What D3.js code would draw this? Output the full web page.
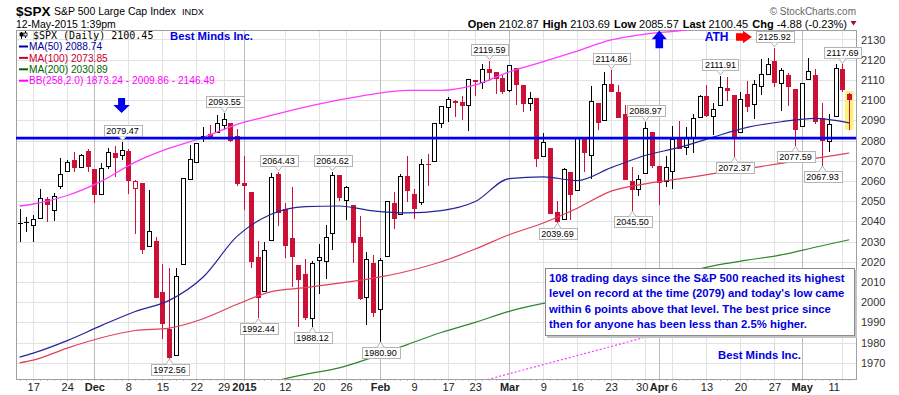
<!DOCTYPE html>
<html><head><meta charset="utf-8">
<script src="https://cdn.jsdelivr.net/npm/d3@7"></script>
<style>html,body{margin:0;padding:0;background:#fff;}svg{display:block;}</style>
</head><body><svg id="c" width="899" height="395"></svg>
<script>
// ---------------- DATA ----------------
const dates = ['2014-11-13','2014-11-14','2014-11-17','2014-11-18','2014-11-19','2014-11-20','2014-11-21','2014-11-24','2014-11-25','2014-11-26','2014-11-28',
'2014-12-01','2014-12-02','2014-12-03','2014-12-04','2014-12-05','2014-12-08','2014-12-09','2014-12-10','2014-12-11','2014-12-12','2014-12-15','2014-12-16','2014-12-17','2014-12-18','2014-12-19','2014-12-22','2014-12-23','2014-12-24','2014-12-26','2014-12-29','2014-12-30','2014-12-31',
'2015-01-02','2015-01-05','2015-01-06','2015-01-07','2015-01-08','2015-01-09','2015-01-12','2015-01-13','2015-01-14','2015-01-15','2015-01-16','2015-01-20','2015-01-21','2015-01-22','2015-01-23','2015-01-26','2015-01-27','2015-01-28','2015-01-29','2015-01-30',
'2015-02-02','2015-02-03','2015-02-04','2015-02-05','2015-02-06','2015-02-09','2015-02-10','2015-02-11','2015-02-12','2015-02-13','2015-02-17','2015-02-18','2015-02-19','2015-02-20','2015-02-23','2015-02-24','2015-02-25','2015-02-26','2015-02-27',
'2015-03-02','2015-03-03','2015-03-04','2015-03-05','2015-03-06','2015-03-09','2015-03-10','2015-03-11','2015-03-12','2015-03-13','2015-03-16','2015-03-17','2015-03-18','2015-03-19','2015-03-20','2015-03-23','2015-03-24','2015-03-25','2015-03-26','2015-03-27','2015-03-30','2015-03-31',
'2015-04-01','2015-04-02','2015-04-06','2015-04-07','2015-04-08','2015-04-09','2015-04-10','2015-04-13','2015-04-14','2015-04-15','2015-04-16','2015-04-17','2015-04-20','2015-04-21','2015-04-22','2015-04-23','2015-04-24','2015-04-27','2015-04-28','2015-04-29','2015-04-30',
'2015-05-01','2015-05-04','2015-05-05','2015-05-06','2015-05-07','2015-05-08','2015-05-11','2015-05-12'];

const openV = [2039.21,2039.74,2038.29,2041.48,2051.16,2045.87,2057.46,2065.07,2070.15,2067.03,2074.78,
2065.78,2053.77,2067.45,2073.64,2072.78,2074.84,2056.55,2058.86,2027.92,2030.36,2005.03,1986.71,1973.77,2018.98,2061.04,2069.28,2081.48,2083.25,2084.30,2087.63,2088.49,2082.11,
2058.90,2054.44,2022.15,2005.55,2030.61,2063.45,2046.13,2031.58,2018.40,2013.75,1992.25,2020.76,2020.19,2034.30,2062.98,2050.42,2047.86,2032.34,2002.45,2019.35,
1996.67,2022.71,2048.86,2043.45,2062.28,2053.47,2049.38,2068.55,2069.98,2088.78,2096.47,2099.16,2099.25,2097.65,2109.83,2109.10,2115.30,2113.91,2110.88,
2105.23,2115.76,2107.72,2098.54,2100.91,2072.25,2076.14,2044.69,2041.10,2064.56,2055.35,2080.59,2072.84,2098.69,2090.32,2107.99,2103.94,2093.10,2059.94,2055.78,2064.11,2084.05,
2067.63,2060.03,2064.87,2080.79,2076.94,2081.29,2091.51,2102.03,2092.28,2097.82,2105.96,2102.58,2084.11,2102.82,2098.27,2107.21,2112.80,2119.29,2108.35,2112.49,2105.52,
2087.38,2110.23,2112.63,2091.26,2079.96,2092.13,2115.56,2102.87];

const highV = [2046.18,2042.22,2043.07,2056.08,2052.14,2053.84,2071.46,2070.17,2074.21,2073.40,2075.76,
2065.78,2068.77,2076.28,2077.34,2079.47,2075.78,2060.60,2058.86,2055.53,2032.25,2018.69,2016.89,2016.75,2061.23,2077.85,2078.76,2086.73,2087.56,2092.70,2093.55,2088.49,2085.58,
2072.36,2054.44,2030.25,2029.61,2064.08,2064.43,2049.30,2056.93,2018.40,2021.35,2020.46,2028.94,2038.29,2064.62,2062.98,2057.62,2047.86,2042.49,2024.64,2023.32,
2021.66,2050.30,2054.74,2063.55,2072.40,2056.16,2070.86,2073.48,2088.53,2097.03,2101.30,2100.23,2102.13,2110.61,2110.05,2117.94,2119.59,2113.91,2112.74,
2117.52,2115.76,2107.72,2104.25,2100.91,2083.49,2076.14,2050.08,2066.41,2064.56,2081.41,2080.59,2106.85,2098.69,2113.92,2114.86,2107.63,2097.43,2067.15,2062.83,2088.97,2084.05,
2067.63,2072.17,2086.99,2089.81,2086.69,2093.31,2102.61,2107.65,2098.62,2111.91,2111.30,2102.58,2103.94,2109.64,2109.98,2120.49,2120.92,2125.92,2116.04,2113.65,2105.52,
2108.41,2120.95,2115.24,2098.42,2092.90,2117.66,2117.69,2103.69];

const lowV = [2030.44,2035.20,2030.17,2041.48,2040.37,2040.49,2056.75,2065.07,2064.75,2066.96,2065.06,
2049.57,2053.77,2066.65,2062.34,2070.81,2054.27,2034.17,2024.26,2027.92,2002.33,1982.26,1972.56,1973.77,2018.98,2061.03,2069.28,2079.77,2081.86,2084.30,2085.75,2079.53,2057.94,
2046.04,2017.34,1992.44,2005.55,2030.61,2038.33,2022.58,2008.25,1988.44,1991.47,1988.12,2004.49,2012.04,2026.38,2050.54,2040.97,2019.91,2001.49,1989.18,1993.38,
1980.90,2022.71,2036.72,2043.45,2049.97,2041.88,2048.62,2057.99,2069.98,2086.70,2089.80,2092.15,2090.79,2085.44,2102.68,2105.87,2109.89,2103.76,2103.75,
2104.50,2098.26,2094.49,2095.22,2067.27,2072.21,2044.16,2039.69,2041.10,2041.17,2055.35,2065.08,2061.23,2085.56,2090.32,2104.42,2091.50,2061.05,2045.50,2052.96,2064.11,2067.04,
2048.38,2057.32,2056.52,2076.10,2073.30,2074.29,2091.51,2092.33,2083.24,2097.82,2100.02,2072.37,2084.11,2094.38,2091.05,2103.19,2112.80,2107.04,2094.89,2097.41,2077.59,
2087.38,2110.23,2088.46,2067.93,2074.99,2092.13,2104.58,2085.57];

const closeV = [2039.33,2039.82,2041.32,2051.80,2048.72,2052.75,2063.50,2069.41,2067.03,2072.83,2067.56,
2053.44,2066.55,2074.33,2071.92,2075.37,2060.31,2059.82,2026.14,2035.33,2002.33,1989.63,1972.74,2012.89,2061.23,2070.65,2078.54,2082.17,2081.88,2088.77,2090.57,2080.35,2058.90,
2058.20,2020.58,2002.61,2025.90,2062.14,2044.81,2028.26,2023.03,2011.27,1992.67,2019.42,2022.55,2032.12,2063.15,2051.82,2057.09,2029.55,2002.16,2021.25,1994.99,
2020.85,2050.03,2041.51,2062.52,2055.47,2046.74,2068.59,2068.53,2088.48,2096.99,2100.34,2099.68,2097.45,2110.30,2109.66,2115.48,2113.86,2110.74,2104.50,
2117.39,2107.78,2098.53,2101.04,2071.26,2079.43,2044.16,2040.24,2065.95,2053.40,2081.19,2074.28,2099.50,2089.27,2108.10,2104.42,2091.50,2061.05,2056.15,2061.02,2086.24,2067.89,
2059.69,2066.96,2080.62,2076.33,2081.90,2091.18,2102.06,2092.43,2095.84,2106.63,2104.99,2081.18,2100.40,2097.29,2107.96,2112.93,2117.69,2108.92,2114.76,2106.85,2085.51,
2108.29,2114.49,2089.46,2080.15,2088.00,2116.10,2105.33,2100.45];

const priorClose = 2038.25;

// overlay samples (trading-day index into dates)
const maSampleIdx = [0,2,7,12,17,22,27,32,37,42,47,52,57,62,67,72,77,82,87,92,97,102,107,112,117,122];
const ma50  = [1972.8,1974.8,1981.0,1988.4,1995.4,2000.9,2012.5,2032.7,2043.5,2047.3,2047.6,2045.2,2044.2,2045.3,2049.8,2061.2,2062.0,2060.2,2066.6,2072.6,2076.6,2081.7,2086.5,2089.3,2091.0,2088.74];
const ma100 = [1970.0,1971.3,1977.3,1982.4,1986.0,1987.2,1991.8,1999.0,2005.2,2007.2,2009.4,2011.9,2015.3,2020.0,2026.3,2033.4,2039.2,2046.5,2055.0,2058.6,2061.0,2063.6,2066.1,2068.7,2071.2,2073.85];
const ma200 = [null,null,null,null,null,null,null,1950.0,1960.0,1964.3,1967.5,1972.8,1979.0,1985.0,1990.0,1995.5,1999.4,2002.3,2006.5,2010.5,2014.0,2018.0,2020.8,2023.4,2027.2,2030.89];
const bbUpper = [2047.6,2048.6,2052.8,2059.8,2069.3,2076.2,2081.5,2088.0,2092.4,2096.5,2100.1,2103.0,2104.8,2104.8,2107.5,2114.0,2119.0,2124.3,2129.8,2132.7,2134.3,2136.5,2139.0,2141.5,2144.0,2146.49];
const bbMiddle = [null,null,null,null,null,null,null,null,null,null,null,null,null,1955.6,1960.1,1964.6,1969.1,1973.6,1978.1,1982.7,1987.2,1991.7,1996.3,2000.8,2005.3,2009.86];
const bbLower = 1873.24;

const yTicks = [1970,1980,1990,2000,2010,2020,2030,2040,2050,2060,2070,2080,2090,2100,2110,2120,2130];
const xTickDates = ['2014-11-17','2014-11-24','2014-12-01','2014-12-08','2014-12-15','2014-12-22','2014-12-29','2015-01-02','2015-01-12','2015-01-20','2015-01-26','2015-02-02','2015-02-09','2015-02-17','2015-02-23','2015-03-02','2015-03-09','2015-03-16','2015-03-23','2015-03-30','2015-04-01','2015-04-06','2015-04-13','2015-04-20','2015-04-27','2015-05-01','2015-05-11'];
const xTickLabels = ['17','24','Dec','8','15','22','29','2015','12','20','26','Feb','9','17','23','Mar','9','16','23','30','Apr','6','13','20','27','May','11'];
const majorTicks = ['Dec','2015','Feb','Mar','Apr','May'];

const highLabelDates = ['2014-12-05','2014-12-29','2015-01-09','2015-01-22','2015-02-25','2015-03-23','2015-03-30','2015-04-15','2015-04-27','2015-05-11'];
const lowLabelDates  = ['2014-12-16','2015-01-06','2015-01-16','2015-02-02','2015-03-11','2015-03-26','2015-04-17','2015-04-30','2015-05-06'];

const resistanceLevel = 2081.2;
const noteLines = ["108 trading days since the S&P 500 reached its highest",
  "level on record at the time (2079) and today's low came",
  "within 6 points above that level. The best price since",
  "then for anyone has been less than 2.5% higher."];

// ---------------- LAYOUT ----------------
const plot = {l:16, r:856, t:30, b:379};
const RED = '#cc1036', BLACK = '#000';
const FONT = 'Arial, "Liberation Sans", sans-serif';
const svg = d3.select('#c').attr('font-family', FONT);
const idxOf = new Map(dates.map((d,i)=>[d,i]));
const x = d3.scaleLinear().domain([0, dates.length-1]).range([19.6, 849.2]);
const y = d3.scaleLinear().domain([1962, 2134.7]).range([plot.b, plot.t]);

svg.append('rect').attr('width',899).attr('height',395).attr('fill','#fff');
svg.append('defs').append('clipPath').attr('id','clip').append('rect')
  .attr('x',plot.l).attr('y',plot.t).attr('width',plot.r-plot.l).attr('height',plot.b-plot.t);

// grid
const grid = svg.append('g');
grid.selectAll('line.h').data(yTicks).join('line')
  .attr('x1',plot.l).attr('x2',plot.r)
  .attr('y1',d=>Math.round(y(d))+0.5).attr('y2',d=>Math.round(y(d))+0.5)
  .attr('stroke','#e2e2e2');
grid.selectAll('line.v').data(xTickDates).join('line')
  .attr('x1',d=>Math.round(x(idxOf.get(d)))+0.5).attr('x2',d=>Math.round(x(idxOf.get(d)))+0.5)
  .attr('y1',plot.t).attr('y2',plot.b)
  .attr('stroke',(d,i)=>majorTicks.includes(xTickLabels[i])?'#bdbdbd':'#e2e2e2');

// day ticks on bottom
grid.selectAll('line.d').data(dates).join('line')
  .attr('x1',(d,i)=>Math.round(x(i))+0.5).attr('x2',(d,i)=>Math.round(x(i))+0.5)
  .attr('y1',plot.b).attr('y2',plot.b+2).attr('stroke','#c8c8c8');

// frame
svg.append('rect').attr('x',plot.l+0.5).attr('y',plot.t+0.5).attr('width',plot.r-plot.l).attr('height',plot.b-plot.t)
  .attr('fill','none').attr('stroke','#a0a0a0');

// y axis
const yAx = svg.append('g').attr('transform',`translate(${plot.r},0)`)
  .call(d3.axisRight(y).tickValues(yTicks).tickSize(0).tickPadding(5).tickFormat(d3.format('d')));
yAx.select('.domain').remove();
yAx.selectAll('text').attr('font-size',11).attr('font-family',FONT).attr('fill','#333');

// x axis
const xShift = {'30':-3.5,'6':1.5};
const xAx = svg.append('g').attr('transform',`translate(0,${plot.b})`)
  .call(d3.axisBottom(x).tickValues(xTickDates.map(d=>idxOf.get(d))).tickSize(0).tickPadding(4)
    .tickFormat((d,i)=>xTickLabels[i]));
xAx.select('.domain').remove();
xAx.selectAll('text').attr('font-size',11).attr('font-family',FONT).attr('fill','#222')
  .attr('font-weight',(d,i)=>majorTicks.includes(xTickLabels[i])?'bold':'normal')
  .attr('text-anchor',(d,i)=>i===xTickLabels.length-1?'end':'middle')
  .attr('dx',(d,i)=>i===xTickLabels.length-1?-3:((xTickDates[i]==='2015-03-30'||xTickDates[i]==='2015-04-06')?xShift[xTickLabels[i]]:0));

// candles
const data = dates.map((d,k)=>({k,d,o:openV[k],h:highV[k],l:lowV[k],c:closeV[k],pc:k?closeV[k-1]:priorClose}));
const cg = svg.append('g').attr('clip-path','url(#clip)');
const last = data[data.length-1];
cg.append('rect').attr('x',x(last.k)-4.3).attr('width',8.6)
  .attr('y',y(last.h)-1.5).attr('height',y(last.l)-y(last.h)+2).attr('fill','#fbf27a');
data.forEach(d=>{
  const col = d.c < d.pc ? RED : BLACK;
  const filled = d.c < d.o;
  const px = Math.round(x(d.k));
  cg.append('line').attr('x1',px+0.5).attr('x2',px+0.5)
    .attr('y1',Math.round(y(d.h))).attr('y2',Math.round(y(d.l))+1).attr('stroke',col);
  const top = Math.round(y(Math.max(d.o,d.c)))+0.5;
  const bot = Math.round(y(Math.min(d.o,d.c)))+0.5;
  cg.append('rect').attr('x',px-1.5).attr('width',4)
    .attr('y',top).attr('height',Math.max(bot-top,0.01))
    .attr('fill',filled?col:'#fff').attr('stroke',col).attr('stroke-width',1);
});

// overlays
const lg = svg.append('g').attr('clip-path','url(#clip)').attr('fill','none');
function drawLine(vals,color,width,dash){
  const pts = maSampleIdx.map((k,i)=>({k,v:vals[i]}));
  lg.append('path').datum(pts)
    .attr('d',d3.line().defined(p=>p.v!=null).x(p=>x(p.k)).y(p=>y(p.v)).curve(d3.curveMonotoneX))
    .attr('stroke',color).attr('stroke-width',width).attr('stroke-dasharray',dash||null);
}
drawLine(bbMiddle,'#ff3cff',1.2,'2,2');
drawLine(ma200,'#2e872e',1.2);
drawLine(ma100,'#e0405a',1.2);
drawLine(ma50,'#24249a',1.2);
drawLine(bbUpper,'#ff3cff',1.3);

// resistance line
svg.append('line').attr('x1',plot.l).attr('x2',plot.r)
  .attr('y1',y(resistanceLevel)).attr('y2',y(resistanceLevel))
  .attr('stroke','#0000f0').attr('stroke-width',2.6);

// value labels
const lab = svg.append('g').attr('font-size',9).attr('font-family',FONT);
function valueLabel(dateStr, isHigh){
  const k = idxOf.get(dateStr);
  const v = isHigh ? highV[k] : lowV[k];
  const cx = Math.round(x(k))+0.5;
  const tipY = isHigh ? y(v)-1 : y(v)+1;
  const g = lab.append('g');
  const t = g.append('text').text(v.toFixed(2)).attr('text-anchor','middle').attr('x',cx);
  const w = t.node().getComputedTextLength()+5;
  const bh = 11;
  const by = isHigh ? Math.round(tipY-5-bh)+0.5 : Math.round(tipY+5)+0.5;
  g.insert('rect','text').attr('x',Math.round(cx-w/2)+0.5).attr('y',by).attr('width',Math.round(w)).attr('height',bh)
    .attr('fill','#fff').attr('stroke','#b4b4b4');
  const edge = isHigh ? by+bh : by;
  g.insert('path','text').attr('d',`M${cx-3.5},${edge} L${cx},${tipY} L${cx+3.5},${edge}`)
    .attr('fill','#fff').attr('stroke','#b4b4b4');
  t.attr('y',by+8.6).attr('fill','#000');
}
highLabelDates.forEach(d=>valueLabel(d,true));
lowLabelDates.forEach(d=>valueLabel(d,false));

// arrows / ATH annotation
const ann = svg.append('g');
(function(){
  const ax = x(idxOf.get('2014-12-05')), ty = y(2093.6);
  ann.append('path').attr('d',`M${ax-3.5},${ty-15} L${ax+3.5},${ty-15} L${ax+3.5},${ty-8} L${ax+8.3},${ty-8} L${ax},${ty} L${ax-8.3},${ty-8} L${ax-3.5},${ty-8}Z`).attr('fill','#0000f0');
  const ux = x(idxOf.get('2015-04-01'))+0.5, uy = y(2134.4);
  ann.append('path').attr('d',`M${ux},${uy} L${ux+7.5},${uy+8.6} L${ux+3.8},${uy+8.6} L${ux+3.8},${uy+17.6} L${ux-3.8},${uy+17.6} L${ux-3.8},${uy+8.6} L${ux-7.5},${uy+8.6}Z`).attr('fill','#0000f0');
  const rx0 = x(105.35), rx1 = x(107.7), ry = y(2131.2);
  ann.append('path').attr('d',`M${rx0},${ry-3.7} L${rx0+7},${ry-3.7} L${rx0+7},${ry-6.3} L${rx1},${ry} L${rx0+7},${ry+6.3} L${rx0+7},${ry+3.7} L${rx0},${ry+3.7}Z`).attr('fill','#ff0000');
  ann.append('text').text('ATH').attr('x',x(102.5)).attr('y',ry+4.3).attr('text-anchor','middle')
    .attr('font-weight','bold').attr('font-size',12).attr('fill','#0000f0');
})();

// note box
const nb = svg.append('g');
nb.append('rect').attr('x',547).attr('y',270).attr('width',310).attr('height',68).attr('fill','#c4c4c4');
nb.append('rect').attr('x',545.5).attr('y',268.5).attr('width',309).attr('height',67).attr('fill','#fff').attr('stroke','#8a8a8a');
nb.selectAll('text').data(noteLines).join('text').text(d=>d)
  .attr('x',549).attr('y',(d,i)=>282+i*15.4).attr('font-size',11.3).attr('font-weight','bold').attr('fill','#0000e0');
svg.append('text').text('Best Minds Inc.').attr('x',718).attr('y',359).attr('font-size',11.3).attr('font-weight','bold').attr('fill','#0000e0');

// legend
const leg = svg.append('g');
leg.append('text').text('$SPX (Daily) '+closeV[closeV.length-1].toFixed(2)).attr('x',33).attr('y',38.5)
  .attr('font-family','"DejaVu Sans Mono", monospace').attr('font-size',10).attr('fill','#000');
[[21,32,39,33,36,true],[25,31,38,33,36,false]].forEach(([cx,a,b,t,bb,f])=>{
  leg.append('line').attr('x1',cx+0.5).attr('x2',cx+0.5).attr('y1',a).attr('y2',b).attr('stroke','#000');
  leg.append('rect').attr('x',cx-1).attr('y',t).attr('width',3).attr('height',bb-t).attr('fill',f?'#000':'#fff').attr('stroke','#000').attr('stroke-width',0.8);
});
const legRows = [
  {t:'MA(50) '+ma50[ma50.length-1].toFixed(2), c:'#000099'},
  {t:'MA(100) '+ma100[ma100.length-1].toFixed(2), c:'#cc0033'},
  {t:'MA(200) '+ma200[ma200.length-1].toFixed(2), c:'#006600'},
  {t:`BB(258,2.0) ${bbLower.toFixed(2)} - ${bbMiddle[bbMiddle.length-1].toFixed(2)} - ${bbUpper[bbUpper.length-1].toFixed(2)}`, c:'#ff00ff'}];
legRows.forEach((r,i)=>{
  const cy = 46.5+i*11.4;
  leg.append('line').attr('x1',19).attr('x2',28).attr('y1',cy).attr('y2',cy).attr('stroke',r.c).attr('stroke-width',2);
  leg.append('text').text(r.t).attr('x',29).attr('y',cy+3.6).attr('font-size',10.2).attr('fill',r.c);
});
svg.append('text').text('Best Minds Inc.').attr('x',170).attr('y',40).attr('font-size',11.3).attr('font-weight','bold').attr('fill','#0000e0');

// header
svg.append('text').text('$SPX').attr('x',16).attr('y',16).attr('font-size',13.5).attr('font-weight','bold');
svg.append('text').text('S&P 500 Large Cap Index').attr('x',54).attr('y',15).attr('font-size',10.5);
svg.append('text').text('INDX').attr('x',182).attr('y',15).attr('font-size',9.2);
svg.append('text').text('12-May-2015 1:39pm').attr('x',16).attr('y',27.5).attr('font-size',10.5);
svg.append('text').text('\u00A9 StockCharts.com').attr('x',856).attr('y',14.5).attr('text-anchor','end').attr('font-size',10).attr('fill','#666');
const L = data.length-1;
const chg = closeV[L]-closeV[L-1];
const parts = [['Open',1],[' '+openV[L].toFixed(2),0],['High',1],[' '+highV[L].toFixed(2),0],['Low',1],[' '+lowV[L].toFixed(2),0],
  ['Last',1],[' '+closeV[L].toFixed(2),0],['Chg',1],[` ${chg.toFixed(2)} (${(chg/closeV[L-1]*100).toFixed(2)}%)`,0]];
const ht = svg.append('text').attr('x',847).attr('y',27.5).attr('text-anchor','end').attr('font-size',11);
parts.forEach(([s,b],i)=>ht.append('tspan').text(s).attr('font-weight',b?'bold':'normal').attr('dx',(b&&i>0)?4:0));
svg.append('path').attr('d','M850.5,21 L856.5,21 L853.5,25.5Z').attr('fill','#a0102a');
</script></body></html>
